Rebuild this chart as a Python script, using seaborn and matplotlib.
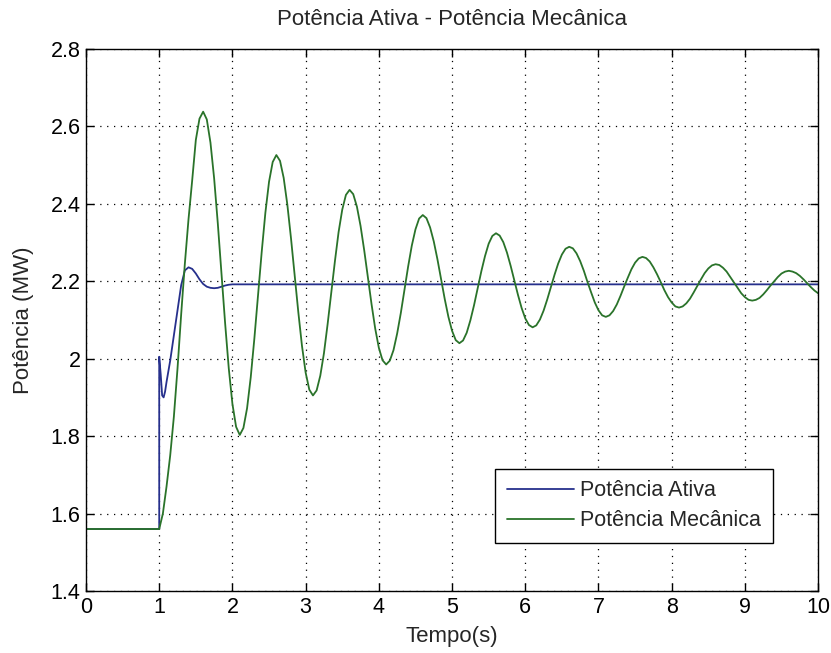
import matplotlib
matplotlib.use("Agg")
import matplotlib.pyplot as plt
import seaborn as sns
import pandas as pd
from matplotlib.ticker import FormatStrFormatter

# ---------------- data ----------------
title = "Potência Ativa - Potência Mecânica"
xlabel = "Tempo(s)"
ylabel = "Potência (MW)"
label_ativa = "Potência Ativa"
label_mec = "Potência Mecânica"

x_ticks = [0, 1, 2, 3, 4, 5, 6, 7, 8, 9, 10]
y_ticks = [1.4, 1.6, 1.8, 2.0, 2.2, 2.4, 2.6, 2.8]

t_ativa = [0.0, 1.0, 1.0, 1.02, 1.04, 1.06, 1.08, 1.10, 1.15, 1.20, 1.25, 1.30,
           1.35, 1.40, 1.45, 1.50, 1.55, 1.60, 1.65, 1.70, 1.75, 1.80, 1.85,
           1.90, 1.95, 2.00, 10.0]
p_ativa = [1.56, 1.56, 2.005, 1.96, 1.905, 1.90, 1.915, 1.94, 1.995, 2.06, 2.125, 2.19,
           2.228, 2.236, 2.232, 2.22, 2.205, 2.193, 2.186, 2.183, 2.182, 2.183, 2.186,
           2.189, 2.191, 2.192, 2.192]

t_mec = [0.0,
         1.00, 1.05, 1.10, 1.15, 1.20, 1.25, 1.30, 1.35, 1.40, 1.45,
         1.50, 1.55, 1.60, 1.65, 1.70, 1.75, 1.80, 1.85, 1.90, 1.95,
         2.00, 2.05, 2.10, 2.15, 2.20, 2.25, 2.30, 2.35, 2.40, 2.45,
         2.50, 2.55, 2.60, 2.65, 2.70, 2.75, 2.80, 2.85, 2.90, 2.95,
         3.00, 3.05, 3.10, 3.15, 3.20, 3.25, 3.30, 3.35, 3.40, 3.45,
         3.50, 3.55, 3.60, 3.65, 3.70, 3.75, 3.80, 3.85, 3.90, 3.95,
         4.00, 4.05, 4.10, 4.15, 4.20, 4.25, 4.30, 4.35, 4.40, 4.45,
         4.50, 4.55, 4.60, 4.65, 4.70, 4.75, 4.80, 4.85, 4.90, 4.95,
         5.00, 5.05, 5.10, 5.15, 5.20, 5.25, 5.30, 5.35, 5.40, 5.45,
         5.50, 5.55, 5.60, 5.65, 5.70, 5.75, 5.80, 5.85, 5.90, 5.95,
         6.00, 6.05, 6.10, 6.15, 6.20, 6.25, 6.30, 6.35, 6.40, 6.45,
         6.50, 6.55, 6.60, 6.65, 6.70, 6.75, 6.80, 6.85, 6.90, 6.95,
         7.00, 7.05, 7.10, 7.15, 7.20, 7.25, 7.30, 7.35, 7.40, 7.45,
         7.50, 7.55, 7.60, 7.65, 7.70, 7.75, 7.80, 7.85, 7.90, 7.95,
         8.00, 8.05, 8.10, 8.15, 8.20, 8.25, 8.30, 8.35, 8.40, 8.45,
         8.50, 8.55, 8.60, 8.65, 8.70, 8.75, 8.80, 8.85, 8.90, 8.95,
         9.00, 9.05, 9.10, 9.15, 9.20, 9.25, 9.30, 9.35, 9.40, 9.45,
         9.50, 9.55, 9.60, 9.65, 9.70, 9.75, 9.80, 9.85, 9.90, 9.95,
         10.00]
p_mec = [1.56,
         1.56, 1.60, 1.67, 1.75, 1.85, 1.975, 2.115, 2.245, 2.36, 2.46,
         2.565, 2.62, 2.638, 2.618, 2.558, 2.466, 2.35, 2.22, 2.092, 1.975,
         1.883, 1.824, 1.803, 1.821, 1.872, 1.952, 2.053, 2.165, 2.276, 2.377,
         2.457, 2.508, 2.526, 2.511, 2.467, 2.398, 2.311, 2.216, 2.120, 2.033,
         1.964, 1.920, 1.905, 1.918, 1.956, 2.014, 2.089, 2.171, 2.252, 2.327,
         2.385, 2.423, 2.436, 2.425, 2.393, 2.343, 2.280, 2.211, 2.141, 2.078,
         2.028, 1.996, 1.985, 1.995, 2.022, 2.065, 2.118, 2.178, 2.238, 2.292,
         2.334, 2.362, 2.371, 2.363, 2.339, 2.303, 2.257, 2.206, 2.154, 2.108,
         2.072, 2.048, 2.040, 2.047, 2.067, 2.099, 2.138, 2.182, 2.226, 2.265,
         2.297, 2.317, 2.324, 2.318, 2.301, 2.274, 2.240, 2.203, 2.165, 2.131,
         2.104, 2.087, 2.081, 2.086, 2.101, 2.124, 2.153, 2.185, 2.217, 2.246,
         2.269, 2.284, 2.289, 2.285, 2.272, 2.252, 2.227, 2.198, 2.171, 2.145,
         2.125, 2.112, 2.108, 2.112, 2.123, 2.140, 2.162, 2.186, 2.209, 2.231,
         2.248, 2.259, 2.263, 2.260, 2.251, 2.236, 2.218, 2.198, 2.177, 2.159,
         2.145, 2.135, 2.132, 2.135, 2.143, 2.155, 2.171, 2.188, 2.205, 2.221,
         2.233, 2.241, 2.244, 2.242, 2.235, 2.225, 2.211, 2.197, 2.183, 2.169,
         2.159, 2.152, 2.150, 2.152, 2.157, 2.166, 2.177, 2.189, 2.200, 2.211,
         2.220, 2.225, 2.227, 2.225, 2.221, 2.214, 2.205, 2.195, 2.185, 2.176,
         2.169]

# ---------------- style ----------------
sns.set_theme(style="white")
plt.rcParams["font.family"] = ["Liberation Sans", "DejaVu Sans"]

color_ativa = "#26308c"
color_mec = "#2a732a"

fig = plt.figure(figsize=(8.31, 6.53), dpi=100)
ax = fig.add_axes([0.1035, 0.095, 0.881, 0.830])

df_a = pd.DataFrame({"t": t_ativa, "p": p_ativa})
df_m = pd.DataFrame({"t": t_mec, "p": p_mec})

sns.lineplot(data=df_a, x="t", y="p", ax=ax, color=color_ativa, lw=1.3,
             estimator=None, sort=False, label=label_ativa)
sns.lineplot(data=df_m, x="t", y="p", ax=ax, color=color_mec, lw=1.3,
             estimator=None, sort=False, label=label_mec)

ax.set_xlim(0, 10)
ax.set_ylim(1.4, 2.8)
ax.set_xticks(x_ticks)
ax.set_yticks(y_ticks)
ax.yaxis.set_major_formatter(FormatStrFormatter("%g"))
ax.xaxis.set_major_formatter(FormatStrFormatter("%g"))

ax.grid(True, color="black", linestyle=(0, (1, 4.5)), linewidth=0.9)
for s in ax.spines.values():
    s.set_color("black")
    s.set_linewidth(1.0)
ax.tick_params(direction="in", length=6, width=1, colors="black",
               top=True, right=True, bottom=True, left=True,
               labelsize=15.5, pad=4)

ax.set_title(title, fontsize=16, pad=17)
ax.set_xlabel(xlabel, fontsize=16, labelpad=6)
ax.set_ylabel(ylabel, fontsize=16, labelpad=12)

leg = ax.legend(loc="lower right", bbox_to_anchor=(0.9385, 0.0886),
                borderaxespad=0, fontsize=15.5, handlelength=3.15,
                frameon=True, fancybox=False, framealpha=1,
                edgecolor="black", borderpad=0.55, labelspacing=0.4,
                handletextpad=0.28)
leg.get_frame().set_linewidth(1.0)

fig.savefig("out.png", dpi=100, facecolor="white")
